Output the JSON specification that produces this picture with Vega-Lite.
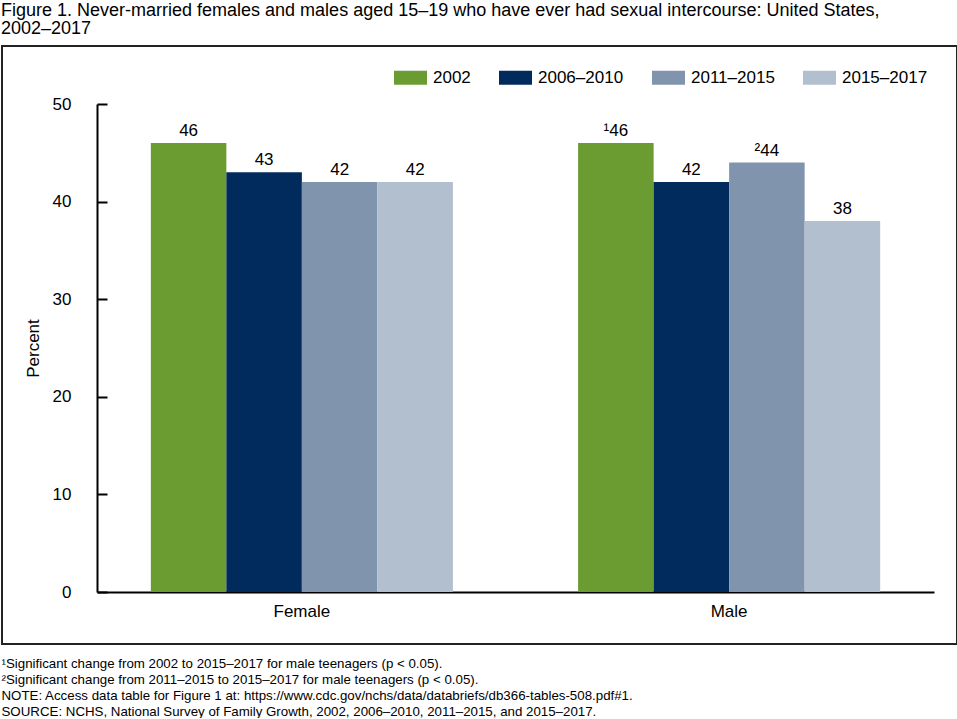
{
  "$schema": "https://vega.github.io/schema/vega-lite/v6.json",
  "width": 955,
  "height": 598,
  "padding": {"left": 1, "top": 2, "right": 1, "bottom": 0},
  "background": "white",
  "title": {
    "text": ["Figure 1. Never-married females and males aged 15–19 who have ever had sexual intercourse: United States,", "2002–2017"],
    "anchor": "start",
    "font": "Liberation Sans",
    "fontSize": 18,
    "fontWeight": "normal",
    "color": "black",
    "lineHeight": 18,
    "offset": 8
  },
  "data": {
    "values": [
      {"sex": "Female", "period": "2002", "value": 46, "label": "46"},
      {"sex": "Female", "period": "2006–2010", "value": 43, "label": "43"},
      {"sex": "Female", "period": "2011–2015", "value": 42, "label": "42"},
      {"sex": "Female", "period": "2015–2017", "value": 42, "label": "42"},
      {"sex": "Male", "period": "2002", "value": 46, "label": "¹46"},
      {"sex": "Male", "period": "2006–2010", "value": 42, "label": "42"},
      {"sex": "Male", "period": "2011–2015", "value": 44, "label": "²44"},
      {"sex": "Male", "period": "2015–2017", "value": 38, "label": "38"}
    ]
  },
  "encoding": {
    "x": {
      "field": "sex",
      "type": "nominal",
      "scale": {"range": [95, 932], "paddingInner": 0.293, "paddingOuter": 0.126},
      "axis": {
        "title": [
          "¹Significant change from 2002 to 2015–2017 for male teenagers (p < 0.05).",
          "²Significant change from 2011–2015 to 2015–2017 for male teenagers (p < 0.05).",
          "NOTE: Access data table for Figure 1 at: https://www.cdc.gov/nchs/data/databriefs/db366-tables-508.pdf#1.",
          "SOURCE: NCHS, National Survey of Family Growth, 2002, 2006–2010, 2011–2015, and 2015–2017."
        ],
        "orient": "bottom",
        "offset": -52,
        "labelAngle": 0,
        "ticks": false,
        "domainColor": "black",
        "domainWidth": 2,
        "labelFont": "Liberation Sans",
        "labelFontSize": 17,
        "labelColor": "black",
        "labelPadding": 11,
        "titleX": -1,
        "titleY": 64,
        "titleAlign": "left",
        "titleAnchor": "start",
        "titleBaseline": "top",
        "titleFont": "Liberation Sans",
        "titleFontSize": 13.3,
        "titleFontWeight": "normal",
        "titleColor": "black",
        "titleLineHeight": 16
      }
    },
    "xOffset": {"field": "period", "type": "nominal", "sort": ["2002", "2006–2010", "2011–2015", "2015–2017"]},
    "y": {
      "field": "value",
      "type": "quantitative",
      "scale": {"domain": [0, 50], "range": [546, 58], "nice": false},
      "axis": {
        "title": "Percent",
        "offset": -95,
        "values": [0, 10, 20, 30, 40, 50],
        "grid": false,
        "tickSize": -10,
        "tickWidth": 2,
        "tickColor": "black",
        "domainColor": "black",
        "domainWidth": 2,
        "labelFont": "Liberation Sans",
        "labelFontSize": 17,
        "labelColor": "black",
        "labelPadding": 36,
        "titleFont": "Liberation Sans",
        "titleFontSize": 17,
        "titleFontWeight": "normal",
        "titleColor": "black",
        "titlePadding": 10
      }
    }
  },
  "layer": [
    {
      "mark": {"type": "bar"},
      "encoding": {
        "color": {
          "field": "period",
          "type": "nominal",
          "scale": {
            "domain": ["2002", "2006–2010", "2011–2015", "2015–2017"],
            "range": ["#6a9c32", "#002b5c", "#8194ae", "#b2bfcf"]
          },
          "legend": {
            "title": null,
            "orient": "none",
            "legendX": 392,
            "legendY": 15,
            "direction": "horizontal",
            "symbolType": "M-1,-0.42H1V0.42H-1Z",
            "symbolSize": 1089,
            "symbolStrokeWidth": 0,
            "labelFont": "Liberation Sans",
            "labelFontSize": 17,
            "labelColor": "black",
            "labelOffset": 6,
            "columnPadding": 28
          }
        }
      }
    },
    {
      "mark": {"type": "text", "baseline": "bottom", "dy": -3, "font": "Liberation Sans", "fontSize": 17, "color": "black"},
      "encoding": {"text": {"field": "label"}}
    }
  ],
  "config": {
    "view": {"stroke": "#222", "strokeWidth": 2}
  }
}
